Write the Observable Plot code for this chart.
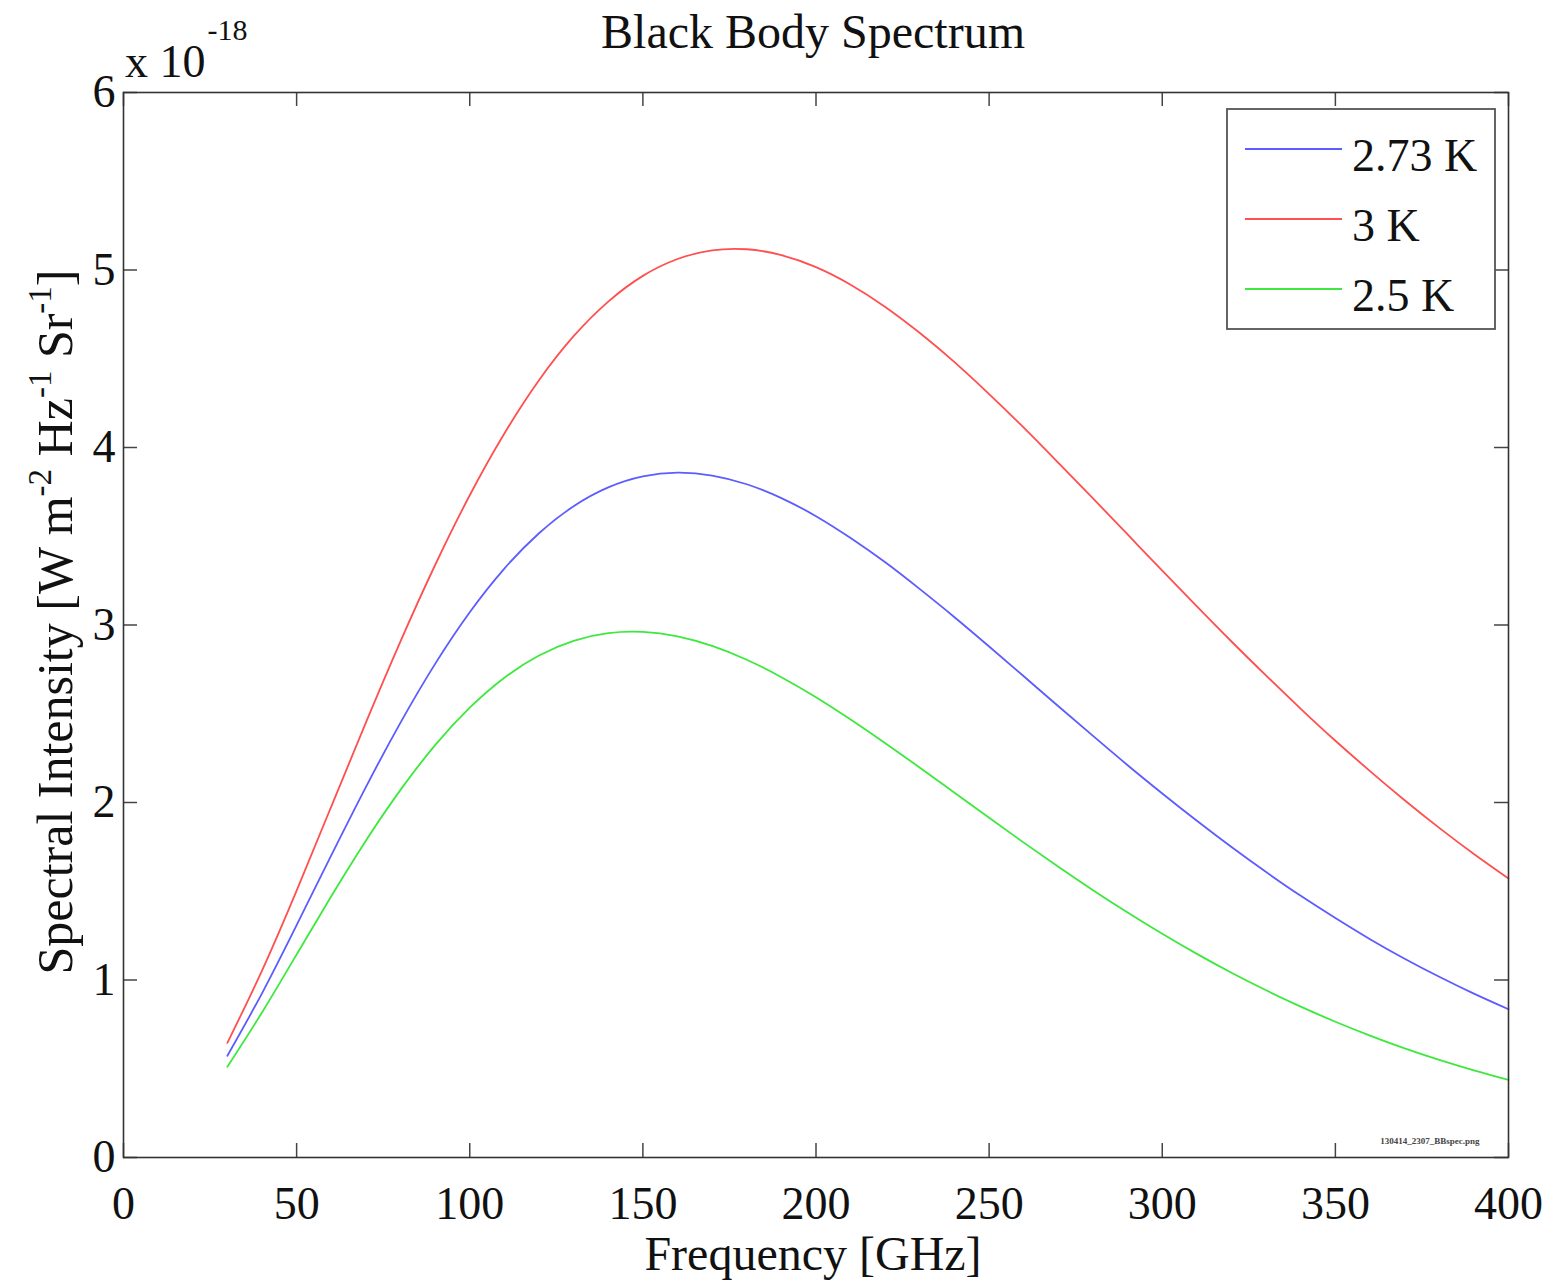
<!DOCTYPE html>
<html>
<head>
<meta charset="utf-8">
<script src="https://cdn.jsdelivr.net/npm/d3@7"></script>
<script src="https://cdn.jsdelivr.net/npm/@observablehq/plot@0.6"></script>
<style>
  html, body { margin: 0; padding: 0; background: #fff; }
  #chart { position: relative; width: 1549px; height: 1281px; }
</style>
</head>
<body>
<div id="chart"></div>
<script>
// ---- Data (spectral intensity in units of 1e-18 W m^-2 Hz^-1 Sr^-1) ----
const freqGHz = [30,40,50,60,70,80,90,100,110,120,130,140,150,160,170,180,190,200,210,220,230,240,250,260,270,280,290,300,310,320,330,340,350,360,370,380,390,400];
const intensity273K = [0.573,0.925,1.309,1.702,2.087,2.450,2.781,3.072,3.318,3.517,3.669,3.775,3.837,3.858,3.842,3.793,3.715,3.613,3.490,3.353,3.202,3.044,2.879,2.711,2.542,2.375,2.210,2.051,1.897,1.749,1.608,1.474,1.349,1.230,1.120,1.018,0.923,0.835];
const intensity3K   = [0.646,1.053,1.504,1.977,2.450,2.908,3.338,3.731,4.079,4.379,4.627,4.822,4.967,5.062,5.111,5.117,5.084,5.016,4.917,4.792,4.645,4.481,4.301,4.112,3.914,3.713,3.510,3.306,3.105,2.907,2.715,2.528,2.348,2.177,2.013,1.857,1.710,1.572];
const intensity25K  = [0.511,0.817,1.144,1.472,1.785,2.071,2.323,2.534,2.703,2.828,2.911,2.954,2.961,2.936,2.882,2.804,2.706,2.593,2.467,2.334,2.196,2.055,1.914,1.774,1.638,1.506,1.380,1.260,1.147,1.041,0.942,0.850,0.765,0.687,0.615,0.550,0.491,0.437];
const seriesNames = ["2.73 K", "3 K", "2.5 K"];
const seriesColors = ["#5c5cff", "#ff4f4f", "#3ee83e"];
const xTicks = [0,50,100,150,200,250,300,350,400];
const yTicks = [0,1,2,3,4,5,6];
const titleText = "Black Body Spectrum";
const xLabel = "Frequency [GHz]";
const fileTag = "130414_2307_BBspec.png";

const seriesValues = [intensity273K, intensity3K, intensity25K];
const rows = [];
seriesNames.forEach((name, i) => {
  freqGHz.forEach((f, j) => rows.push({series: name, freq: f, value: seriesValues[i][j]}));
});

const W = 1549, H = 1281;
const mL = 123, mR = 41, mT = 92, mB = 124;
const fw = W - mL - mR, fh = H - mT - mB;
const tickLen = 14;
const serif = "'Liberation Serif', 'Times New Roman', 'DejaVu Serif', serif";

const chart = Plot.plot({
  width: W, height: H,
  marginLeft: mL, marginRight: mR, marginTop: mT, marginBottom: mB,
  style: {fontFamily: serif, fontSize: "46px", color: "#111", background: "#fff"},
  x: {domain: [0, 400]},
  y: {domain: [0, 6]},
  color: {domain: seriesNames, range: seriesColors},
  marks: [
    // inward ticks (MATLAB style) on all four sides
    Plot.ruleX(xTicks, {x: d => d, insetTop: fh - tickLen, stroke: "#444", strokeWidth: 1.5}),
    Plot.ruleX(xTicks, {x: d => d, insetBottom: fh - tickLen, stroke: "#444", strokeWidth: 1.5}),
    Plot.ruleY(yTicks, {y: d => d, insetRight: fw - tickLen, stroke: "#444", strokeWidth: 1.5}),
    Plot.ruleY(yTicks, {y: d => d, insetLeft: fw - tickLen, stroke: "#444", strokeWidth: 1.5}),
    Plot.line(rows, {x: "freq", y: "value", z: "series", stroke: "series", strokeWidth: 1.8, curve: "natural"}),
    Plot.frame({stroke: "#333", strokeWidth: 1.6}),
    Plot.axisX({ticks: xTicks, tickSize: 0, tickPadding: 29, label: null, fontSize: 46, tickFormat: d => String(d)}),
    Plot.axisY({ticks: yTicks, tickSize: 0, tickPadding: 8, label: null, fontSize: 46, tickFormat: d => String(d)})
  ]
});
document.getElementById("chart").appendChild(chart);

const svg = d3.select(chart);
const ff = serif;

// Title
svg.append("text").attr("x", 813).attr("y", 48).attr("text-anchor", "middle")
  .attr("font-family", ff).attr("font-size", 48).attr("fill", "#111").text(titleText);

// Exponent label above y axis
const expo = svg.append("text").attr("x", 125).attr("y", 77).attr("text-anchor", "start")
  .attr("font-family", ff).attr("font-size", 46).attr("fill", "#111");
expo.append("tspan").text("x 10");
expo.append("tspan").attr("font-size", 30).attr("dy", -37).attr("dx", 2).text("-18");

// X axis label
svg.append("text").attr("x", 813).attr("y", 1270).attr("text-anchor", "middle")
  .attr("font-family", ff).attr("font-size", 48).attr("fill", "#111").text(xLabel);

// Y axis label with superscripts
const yl = svg.append("text").attr("transform", "translate(72,622) rotate(-90)")
  .attr("text-anchor", "middle").attr("font-family", ff).attr("font-size", 50).attr("fill", "#111");
const parts = [["Spectral Intensity [W m", 0], ["-2", 1], [" Hz", 0], ["-1", 1], [" Sr", 0], ["-1", 1], ["]", 0]];
let raised = false;
parts.forEach(([t, sup]) => {
  const ts = yl.append("tspan").text(t);
  if (sup && !raised) { ts.attr("font-size", 33).attr("dy", -21); raised = true; }
  else if (!sup && raised) { ts.attr("dy", 21); raised = false; }
  else if (sup) { ts.attr("font-size", 33); }
});

// Legend
const lg = svg.append("g").attr("text-anchor", "start");
lg.append("rect").attr("x", 1227).attr("y", 109).attr("width", 268).attr("height", 220)
  .attr("fill", "#fff").attr("stroke", "#555").attr("stroke-width", 1.8);
seriesNames.forEach((name, i) => {
  const yy = 149 + i * 70;
  lg.append("line").attr("x1", 1245).attr("x2", 1342).attr("y1", yy).attr("y2", yy)
    .attr("stroke", seriesColors[i]).attr("stroke-width", 1.8);
  lg.append("text").attr("x", 1352).attr("y", yy + 22).attr("text-anchor", "start").attr("font-family", ff)
    .attr("font-size", 46).attr("fill", "#111").text(name);
});

// small file tag
svg.append("text").attr("x", 1430).attr("y", 1144).attr("text-anchor", "middle")
  .attr("font-family", ff).attr("font-size", 9).attr("font-weight", "bold").attr("fill", "#444").text(fileTag);
</script>
</body>
</html>
